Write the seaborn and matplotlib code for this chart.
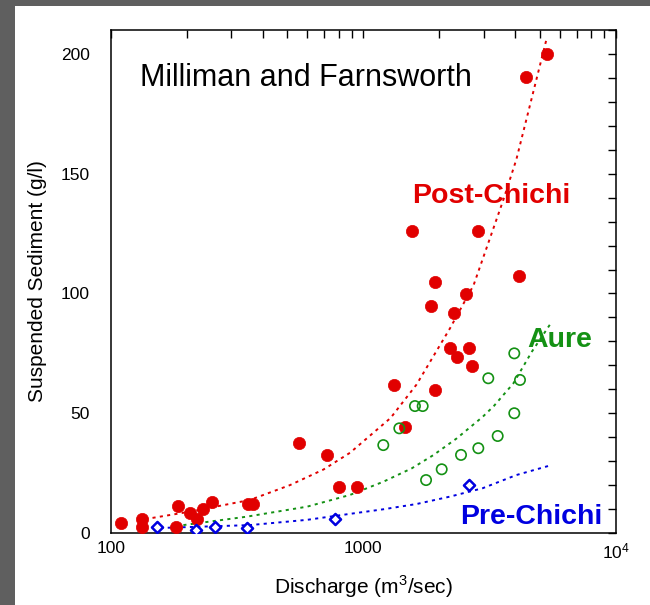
# Milliman and Farnsworth: suspended sediment vs discharge
import numpy as np
import pandas as pd
import seaborn as sns
import matplotlib
matplotlib.use('Agg')
import matplotlib.pyplot as plt
from matplotlib.patches import Rectangle
from matplotlib.ticker import FixedLocator, MultipleLocator

# --- data ---
# Post-Chichi, filled red circles (discharge m3/s, sediment g/l)
post_q = [110, 133, 133, 181, 185, 206, 220, 233, 251, 351, 367, 558, 721, 804, 942,
          1328, 1464, 1923, 1849, 2289, 2206, 2345, 2633, 2690, 5330, 4401, 1556,
          2857, 1923, 4140, 2553]
post_s = [4.0, 5.8, 2.4, 2.7, 11.3, 8.2, 5.7, 9.9, 13.1, 12.0, 12.0, 37.7, 32.6, 19.3, 19.3,
          61.8, 44.1, 59.7, 94.8, 91.7, 77.1, 73.4, 77.1, 69.9, 200.0, 190.5, 126.2,
          126.2, 104.9, 107.3, 99.8]

# Aure, open green circles
aure_q = [1201, 1390, 1603, 1720, 1774, 2046, 2440, 2857, 3129, 3409, 3966, 3966, 4178]
aure_s = [36.7, 43.7, 53.0, 53.0, 22.1, 26.6, 32.6, 35.4, 64.6, 40.5, 50.0, 75.0, 63.9]

# Pre-Chichi, open blue diamonds
pre_q = [153, 218, 259, 347, 773, 2633]
pre_s = [2.6, 1.3, 2.6, 1.9, 5.7, 20.0]

# dotted fit curves
post_fit_q = [137, 206, 356, 513, 696, 887, 1283, 1627, 2208, 2737, 3587, 4043, 5330]
post_fit_s = [5.8, 8.9, 13.8, 20.0, 26.5, 33.5, 48.0, 62.0, 85.5, 103.5, 139.0, 156.0, 206.5]

aure_fit_q = [194, 345, 600, 887, 1201, 1557, 1895, 2346, 2973, 3291, 3935, 4655, 5586]
aure_fit_s = [3.3, 6.8, 11.0, 15.9, 21.4, 27.0, 32.5, 39.5, 48.5, 53.0, 62.5, 75.7, 88.2]

pre_fit_q = [147, 356, 600, 860, 1201, 1627, 2208, 2973, 4043, 5586]
pre_fit_s = [2.0, 3.3, 5.5, 7.8, 9.9, 12.1, 15.2, 18.7, 24.2, 28.4]

x_ticks = [100, 1000, 10000]
x_tick_labels = ['100', '1000', r'$\mathregular{10^{4}}$']
y_ticks = [0, 50, 100, 150, 200]

RED = '#e10000'
GREEN = '#149114'
BLUE = '#0000e0'

sns.set_style('white')
plt.rcParams['font.family'] = ['Liberation Sans', 'DejaVu Sans']
plt.rcParams['mathtext.fontset'] = 'custom'
plt.rcParams['mathtext.rm'] = 'Liberation Sans'
plt.rcParams['text.color'] = 'black'
plt.rcParams['axes.labelcolor'] = 'black'
plt.rcParams['xtick.color'] = 'black'
plt.rcParams['ytick.color'] = 'black'

fig = plt.figure(figsize=(6.5, 6.05), dpi=100)
ax = fig.add_axes([110.7 / 650, 1 - 533 / 605, 505 / 650, 503 / 605])

# grey frame strips at left and top
fig.patches.append(Rectangle((0, 0), 15 / 650, 1, transform=fig.transFigure,
                             facecolor='#5f5f5f', edgecolor='none', zorder=-1))
fig.patches.append(Rectangle((0, 1 - 6 / 605), 1, 6 / 605, transform=fig.transFigure,
                             facecolor='#5f5f5f', edgecolor='none', zorder=-1))

dots = (0, (1.6, 2.2))
fits = [(post_fit_q, post_fit_s, RED), (aure_fit_q, aure_fit_s, GREEN),
        (pre_fit_q, pre_fit_s, BLUE)]
for q, s, c in fits:
    df = pd.DataFrame({'q': q, 's': s})
    sns.lineplot(data=df, x='q', y='s', ax=ax, color=c, linewidth=1.4,
                 linestyle=dots, sort=False, estimator=None)

sns.scatterplot(x=post_q, y=post_s, ax=ax, color=RED, s=78, edgecolor=RED,
                linewidth=0.5, marker='o', zorder=3)
sns.scatterplot(x=aure_q, y=aure_s, ax=ax, facecolor='none', edgecolor=GREEN,
                s=55, linewidth=1.2, marker='o', zorder=3)
sns.scatterplot(x=pre_q, y=pre_s, ax=ax, facecolor='white', edgecolor=BLUE,
                s=32, linewidth=1.8, marker='D', zorder=4)

ax.set_xscale('log')
ax.set_xlim(100, 10000)
ax.set_ylim(0, 210)
ax.xaxis.set_major_locator(FixedLocator(x_ticks))
ax.set_xticklabels(x_tick_labels)
ax.xaxis.set_minor_locator(FixedLocator([m * d for d in (100, 1000) for m in range(2, 10)]))
ax.yaxis.set_major_locator(FixedLocator(y_ticks))
ax.yaxis.set_minor_locator(MultipleLocator(10))

ax.tick_params(which='both', direction='in', top=True, right=True, length=5.5,
               width=1, color='black', labelsize=12.5, labelcolor='black')
ax.tick_params(axis='y', pad=15)
ax.tick_params(axis='x', pad=6)
for sp in ax.spines.values():
    sp.set_color('black')
    sp.set_linewidth(1.1)

ax.set_xlabel('Discharge (m$^3$/sec)', fontsize=15, labelpad=9, color='black')
ax.set_ylabel('Suspended Sediment (g/l)', fontsize=15, labelpad=10, color='black')

ax.text(0.058, 0.889, 'Milliman and Farnsworth', transform=ax.transAxes,
        fontsize=22, color='black', va='baseline')
ax.text(0.5966, 0.656, 'Post-Chichi', transform=ax.transAxes, fontsize=20.5,
        fontweight='bold', color=RED, va='baseline')
ax.text(0.824, 0.370, 'Aure', transform=ax.transAxes, fontsize=20.5,
        fontweight='bold', color=GREEN, va='baseline')
ax.text(0.692, 0.018, 'Pre-Chichi', transform=ax.transAxes, fontsize=20.5,
        fontweight='bold', color=BLUE, va='baseline')

fig.savefig('out.png', dpi=100, facecolor='white')
